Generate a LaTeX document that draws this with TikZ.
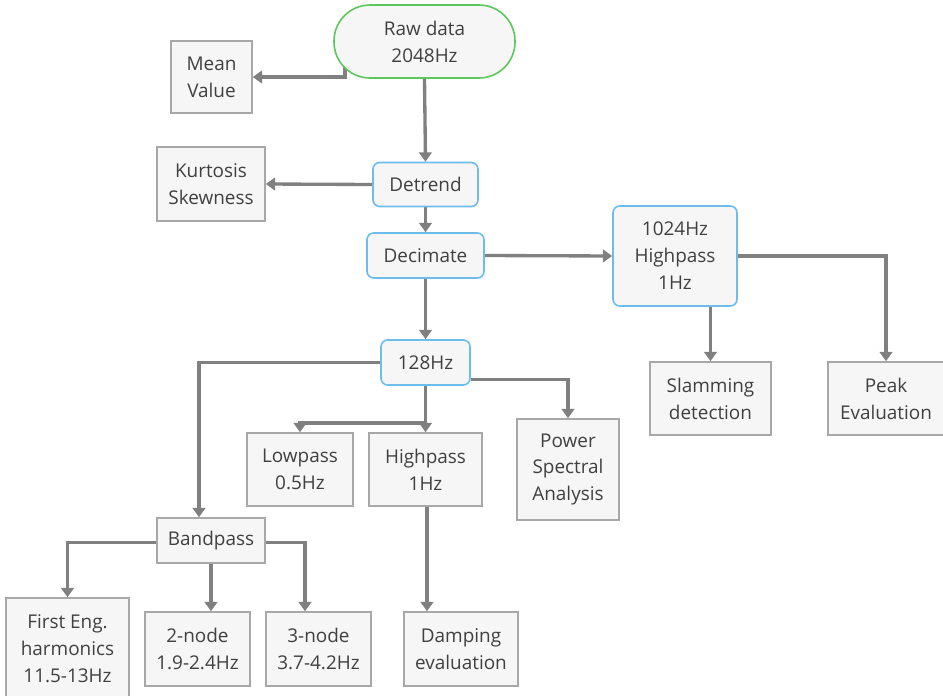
\documentclass[tikz,border=0pt]{standalone}
\usepackage{fontspec}
\setmainfont{Open Sans}
\usetikzlibrary{arrows.meta,calc,backgrounds}
\definecolor{txt}{HTML}{404040}
\definecolor{boxline}{HTML}{A8A8A8}
\definecolor{boxfill}{HTML}{F6F6F6}
\definecolor{blueline}{HTML}{6CBDEB}
\definecolor{greenline}{HTML}{5CC85C}
\definecolor{linec}{HTML}{808080}
\begin{document}
\begin{tikzpicture}[x=0.75pt,y=-0.75pt,
  base/.style={font=\fontsize{14.2}{20.2}\selectfont, text=txt, align=center, inner sep=0pt},
  gbox/.style={base, draw=boxline, fill=boxfill, line width=1.2pt},
  bbox/.style={base, draw=blueline, fill=boxfill, line width=1.2pt, rounded corners=5pt},
  rawbox/.style={base, draw=greenline, fill=boxfill, line width=1.2pt, rounded corners=27pt},
  conn/.style={draw=linec, line width=2.5pt, -{Triangle[width=9.5pt,length=7pt]}}]
\useasboundingbox (0,0) rectangle (943,696);

\node[rawbox, minimum width=135.75pt, minimum height=54.75pt] (raw) at (424.5,41.5) {Raw data\\2048Hz};
\node[gbox, minimum width=60.75pt, minimum height=54pt] (mean) at (211.5,77) {Mean\\Value};
\node[gbox, minimum width=81pt, minimum height=55.5pt] (kurt) at (211,184) {Kurtosis\\Skewness};
\node[bbox, minimum width=78.75pt, minimum height=33pt] (detrend) at (425.5,184.5) {Detrend};
\node[bbox, minimum width=87.75pt, minimum height=33.75pt] (decimate) at (425.5,255.5) {Decimate};
\node[bbox, minimum width=93pt, minimum height=75pt] (hp1024) at (675,256) {1024Hz\\Highpass\\1Hz};
\node[gbox, minimum width=90.75pt, minimum height=54.75pt] (slam) at (710.5,398.5) {Slamming\\detection};
\node[gbox, minimum width=87pt, minimum height=54.75pt] (peak) at (886,398.5) {Peak\\Evaluation};
\node[bbox, minimum width=66.75pt, minimum height=33.75pt] (hz128) at (425.5,362.5) {128Hz};
\node[gbox, minimum width=79.5pt, minimum height=54.75pt] (low) at (300,469.5) {Lowpass\\0.5Hz};
\node[gbox, minimum width=84.75pt, minimum height=54.75pt] (high) at (425.5,469.5) {Highpass\\1Hz};
\node[gbox, minimum width=76.5pt, minimum height=75.75pt] (power) at (568,469.5) {Power\\Spectral\\Analysis};
\node[gbox, minimum width=81pt, minimum height=33.75pt] (band) at (211,540.5) {Bandpass};
\node[gbox, minimum width=92.25pt, minimum height=76.5pt] (first) at (67.5,649) {First Eng.\\harmonics\\11.5-13Hz};
\node[gbox, minimum width=78.75pt, minimum height=55.5pt] (two) at (197.5,649) {2-node\\1.9-2.4Hz};
\node[gbox, minimum width=78.75pt, minimum height=55.5pt] (three) at (318.5,649) {3-node\\3.7-4.2Hz};
\node[gbox, minimum width=85.5pt, minimum height=55.5pt] (damp) at (461,649) {Damping\\evaluation};

\coordinate (r1) at (345,62);
\coordinate (br) at (425.5,423);

\begin{scope}[on background layer]
\fill[white] (0,0) rectangle (943,696);
\draw[conn] (r1) |- (mean.east);
\draw[conn] (raw.south) -- (detrend.north);
\draw[conn] (detrend.west) -- (kurt.east);
\draw[conn] (detrend.south) -- (decimate.north);
\draw[conn] (decimate.east) -- (hp1024.west);
\draw[conn] (hp1024.south -| slam.north) -- (slam.north);
\draw[conn] (hp1024.east) -| (peak.north);
\draw[conn] (decimate.south) -- (hz128.north);
\draw[conn] (hz128.west) -| ($(band.north)+(-12,0)$);
\draw[conn] (hz128.south) -- (high.north);
\draw[conn] (br) -| (low.north);
\draw[conn] ($(hz128.south east)+(0,-6)$) -| (power.north);
\draw[conn] ($(band.west)+(0,2)$) -| (first.north);
\draw[conn] (band.south) -- (band.south |- two.north);
\draw[conn] ($(band.east)+(0,2)$) -| ($(three.north)+(-13.5,0)$);
\draw[conn] ($(high.south)+(1.5,0)$) -- ($(high.south |- damp.north)+(1.5,0)$);
\end{scope}
\end{tikzpicture}
\end{document}
